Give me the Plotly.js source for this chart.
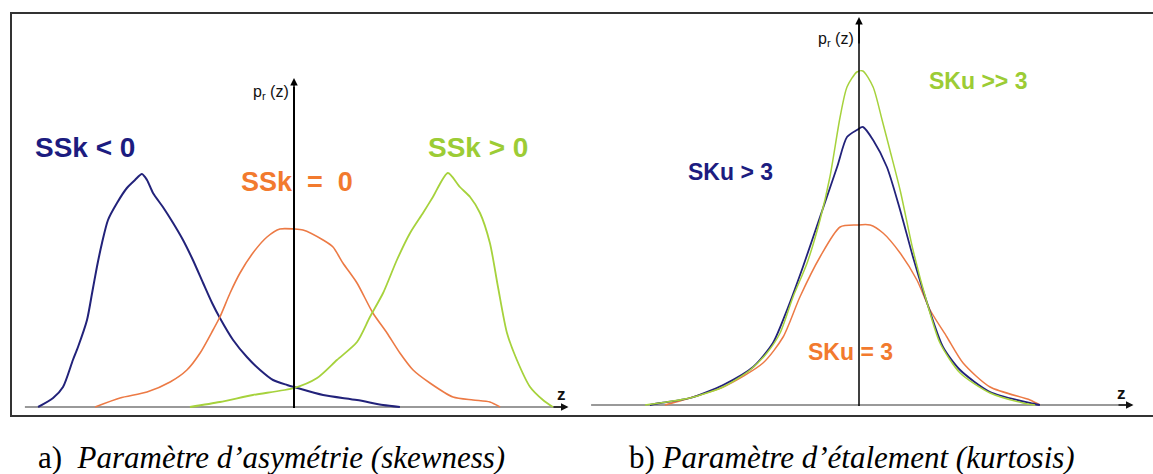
<!DOCTYPE html>
<html>
<head>
<meta charset="utf-8">
<script src="https://cdn.plot.ly/plotly-3.0.1.min.js"></script>
<style>html,body{margin:0;padding:0;background:#fff;}#chart{width:1153px;height:474px;}</style>
</head>
<body>
<div id="chart"></div>
<script>
// ---- Panel a) skewness : z values and p_r(z) values (arbitrary units, axis origin at 0) ----
const skNegZ = [-8.53,-8.03,-7.70,-7.37,-7.20,-6.90,-6.73,-6.57,-6.40,-6.20,-5.90,-5.57,-5.30,-5.07,-4.90,-4.70,-4.37,-4.03,-3.70,-3.37,-3.03,-2.73,-2.47,-2.03,-1.57,-1.13,-0.70,-0.23,0.00,0.97,2.10,2.97,3.53];
const skNegP = [0,0.09,0.20,0.47,0.60,0.87,1.14,1.40,1.64,1.87,2.04,2.19,2.27,2.33,2.27,2.14,2.00,1.84,1.67,1.47,1.24,1.04,0.89,0.67,0.50,0.37,0.27,0.22,0.20,0.12,0.07,0.02,0];

const skZeroZ = [-6.63,-5.80,-4.90,-4.13,-3.57,-3.13,-2.70,-2.47,-2.13,-1.80,-1.37,-0.90,-0.47,0.00,0.30,0.97,1.30,1.63,2.10,2.63,3.10,3.53,3.97,4.53,5.30,5.97,6.53,6.87];
const skZeroP = [0,0.09,0.15,0.25,0.37,0.54,0.77,0.90,1.14,1.34,1.54,1.70,1.78,1.78,1.77,1.67,1.60,1.44,1.24,0.94,0.74,0.54,0.37,0.24,0.10,0.07,0.05,0];

const skPosZ = [-3.47,-2.47,-1.37,0.00,0.77,1.43,2.10,2.53,2.97,3.43,3.87,4.30,4.63,5.13,5.53,5.87,6.20,6.53,6.80,7.10,7.43,7.87,8.30,8.63];
const skPosP = [0,0.05,0.12,0.19,0.29,0.47,0.65,0.90,1.14,1.47,1.74,1.94,2.10,2.34,2.20,2.10,1.94,1.64,1.20,0.74,0.47,0.20,0.07,0];

// ---- Panel b) kurtosis ----
const kuHighZ = [-7.13,-6.63,-5.63,-4.53,-3.63,-3.07,-2.63,-2.20,-1.73,-1.30,-0.97,-0.63,-0.40,-0.07,0.13,0.47,0.77,1.03,1.37,1.80,2.27,2.70,3.37,4.37,5.47,5.87];
const kuHighP = [0,0.02,0.07,0.18,0.35,0.52,0.72,1.08,1.42,1.85,2.28,2.88,3.18,3.33,3.34,3.18,2.85,2.55,2.15,1.55,1.02,0.62,0.32,0.12,0.02,0];

const kuMidZ = [-6.97,-6.63,-5.63,-4.53,-3.53,-2.87,-2.40,-1.87,-1.30,-0.73,-0.40,-0.07,0.13,0.47,0.93,1.37,1.80,2.27,2.80,3.37,4.37,5.70,6.03];
const kuMidP = [0,0.02,0.07,0.20,0.38,0.62,0.95,1.38,1.88,2.38,2.68,2.75,2.78,2.65,2.38,1.95,1.48,1.02,0.58,0.35,0.13,0.02,0];

const kuNormZ = [-6.47,-5.87,-4.53,-3.20,-2.53,-1.97,-1.30,-0.63,-0.07,0.37,0.80,1.37,1.93,2.37,2.93,3.47,4.37,5.70,6.03];
const kuNormP = [0,0.05,0.18,0.42,0.68,1.08,1.48,1.78,1.80,1.80,1.72,1.52,1.25,0.95,0.68,0.42,0.18,0.05,0];

// ---- Text ----
const labelsA = ["SSk < 0", "SSk  =  0", "SSk > 0"];
const labelsB = ["SKu > 3", "SKu = 3", "SKu >> 3"];
const captionA = "a)  <i>Paramètre d’asymétrie (skewness)</i>";
const captionB = "b) <i>Paramètre d’étalement (kurtosis)</i>";
const yLabel = "p<sub>r</sub> (z)";
const xLabel = "z";

// ---- Styling ----
const W = 1153, H = 474;
const cBlue = "#22227a", cOrange = "#ec7a45", cGreen = "#a6d23c";
const tBlue = "#1c1c80", tOrange = "#f27a2e", tGreen = "#9ccc35";
const px = x => x / W;
const py = y => 1 - y / H;
const ln = (color, width) => ({color: color, width: width, shape: "spline", smoothing: 0.7});

const traces = [
  {x: skNegZ, y: skNegP, xaxis: "x", yaxis: "y", mode: "lines", line: ln(cBlue, 2)},
  {x: skZeroZ, y: skZeroP, xaxis: "x", yaxis: "y", mode: "lines", line: ln(cOrange, 1.6)},
  {x: skPosZ, y: skPosP, xaxis: "x", yaxis: "y", mode: "lines", line: ln(cGreen, 1.8)},
  {x: kuNormZ, y: kuNormP, xaxis: "x2", yaxis: "y2", mode: "lines", line: ln(cOrange, 1.5)},
  {x: kuMidZ, y: kuMidP, xaxis: "x2", yaxis: "y2", mode: "lines", line: ln(cBlue, 1.8)},
  {x: kuHighZ, y: kuHighP, xaxis: "x2", yaxis: "y2", mode: "lines", line: ln(cGreen, 1.5)}
];

const hidden = {visible: false, fixedrange: true};
const lblFont = (size, color) => ({family: "Liberation Sans, Arial", size: size, color: color});
const layout = {
  width: W, height: H,
  margin: {l: 0, r: 0, t: 0, b: 0},
  paper_bgcolor: "#fff", plot_bgcolor: "rgba(0,0,0,0)",
  showlegend: false,
  xaxis: Object.assign({domain: [0, 0.5], range: [-9.8, 9.4167]}, hidden),
  yaxis: Object.assign({domain: [0, 1], range: [-0.67, 4.07]}, hidden),
  xaxis2: Object.assign({domain: [0.5, 1], range: [-9.4167, 9.8], anchor: "y2"}, hidden),
  yaxis2: Object.assign({domain: [0, 1], range: [-0.69, 4.05], anchor: "x2"}, hidden),
  shapes: [
    // frame
    {type: "line", xref: "paper", yref: "paper", x0: px(10), x1: 1, y0: py(13), y1: py(13), line: {color: "#333", width: 2}},
    {type: "line", xref: "paper", yref: "paper", x0: px(11), x1: px(11), y0: py(13), y1: py(416), line: {color: "#333", width: 2}},
    {type: "line", xref: "paper", yref: "paper", x0: px(10), x1: 1, y0: py(416), y1: py(416), line: {color: "#333", width: 2}},
    // panel a axes
    {type: "line", xref: "x", yref: "y", x0: -8.97, x1: 8.9, y0: 0, y1: 0, line: {color: "#999", width: 2}, layer: "below"},
    {type: "line", xref: "x", yref: "y", x0: 0, x1: 0, y0: -0.01, y1: 3.2, line: {color: "#000", width: 2}},
    // panel b axes
    {type: "line", xref: "x2", yref: "y2", x0: -8.93, x1: 8.9, y0: 0, y1: 0, line: {color: "#999", width: 2}, layer: "below"},
    {type: "line", xref: "x2", yref: "y2", x0: 0, x1: 0, y0: -0.01, y1: 3.82, line: {color: "#000", width: 1.5}}
  ],
  annotations: [
    // arrow heads
    {xref: "x", yref: "y", axref: "x", ayref: "y", x: 9.15, y: 0, ax: 8.6, ay: 0, text: "", showarrow: true, arrowhead: 2, arrowsize: 1, arrowwidth: 1.5, arrowcolor: "#111"},
    {xref: "x", yref: "y", axref: "x", ayref: "y", x: 0, y: 3.29, ax: 0, ay: 3.0, text: "", showarrow: true, arrowhead: 2, arrowsize: 1, arrowwidth: 1.5, arrowcolor: "#000"},
    {xref: "x2", yref: "y2", axref: "x2", ayref: "y2", x: 9.15, y: 0, ax: 8.6, ay: 0, text: "", showarrow: true, arrowhead: 2, arrowsize: 1, arrowwidth: 1.5, arrowcolor: "#111"},
    {xref: "x2", yref: "y2", axref: "x2", ayref: "y2", x: 0, y: 3.88, ax: 0, ay: 3.6, text: "", showarrow: true, arrowhead: 2, arrowsize: 1, arrowwidth: 1.5, arrowcolor: "#000"},
    // axis labels
    {xref: "paper", yref: "paper", x: px(291), y: py(93), xanchor: "right", yanchor: "middle", text: yLabel, showarrow: false, font: lblFont(16, "#111")},
    {xref: "paper", yref: "paper", x: px(856), y: py(40), xanchor: "right", yanchor: "middle", text: yLabel, showarrow: false, font: lblFont(16, "#111")},
    {xref: "paper", yref: "paper", x: px(561), y: py(394), xanchor: "center", yanchor: "middle", text: "<b>" + xLabel + "</b>", showarrow: false, font: lblFont(17, "#111")},
    {xref: "paper", yref: "paper", x: px(1121), y: py(393), xanchor: "center", yanchor: "middle", text: "<b>" + xLabel + "</b>", showarrow: false, font: lblFont(17, "#111")},
    // panel a labels
    {xref: "paper", yref: "paper", x: px(85), y: py(148), xanchor: "center", yanchor: "middle", text: "<b>" + labelsA[0] + "</b>", showarrow: false, font: lblFont(28, tBlue)},
    {xref: "paper", yref: "paper", x: px(297), y: py(182), xanchor: "center", yanchor: "middle", text: "<b>" + labelsA[1] + "</b>", showarrow: false, font: lblFont(27, tOrange)},
    {xref: "paper", yref: "paper", x: px(478), y: py(148), xanchor: "center", yanchor: "middle", text: "<b>" + labelsA[2] + "</b>", showarrow: false, font: lblFont(28, tGreen)},
    // panel b labels
    {xref: "paper", yref: "paper", x: px(730), y: py(172), xanchor: "center", yanchor: "middle", text: "<b>" + labelsB[0] + "</b>", showarrow: false, font: lblFont(23, tBlue)},
    {xref: "paper", yref: "paper", x: px(850), y: py(352), xanchor: "center", yanchor: "middle", text: "<b>" + labelsB[1] + "</b>", showarrow: false, font: lblFont(23, tOrange)},
    {xref: "paper", yref: "paper", x: px(978), y: py(81), xanchor: "center", yanchor: "middle", text: "<b>" + labelsB[2] + "</b>", showarrow: false, font: lblFont(23, tGreen)},
    // captions
    {xref: "paper", yref: "paper", x: px(271), y: py(457), xanchor: "center", yanchor: "middle", text: captionA, showarrow: false, font: {family: "Liberation Serif, Times New Roman, serif", size: 31, color: "#000"}},
    {xref: "paper", yref: "paper", x: px(852), y: py(457), xanchor: "center", yanchor: "middle", text: captionB, showarrow: false, font: {family: "Liberation Serif, Times New Roman, serif", size: 31, color: "#000"}}
  ]
};

Plotly.newPlot("chart", traces, layout, {staticPlot: true, displayModeBar: false});
</script>
</body>
</html>
